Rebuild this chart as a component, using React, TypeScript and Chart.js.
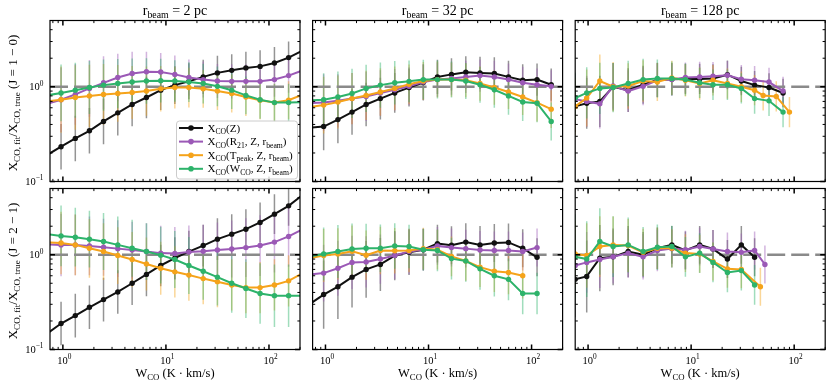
import { useEffect, useRef } from 'react';
import { Chart, registerables } from 'chart.js';
Chart.register(...registerables);

// ---------------- data ----------------
// bin centres (W_CO, K km/s)
const X_LEFT = [0.70, 0.96, 1.32, 1.81, 2.48, 3.41, 4.70, 6.47, 8.9, 12.2, 16.7, 23.0, 31.6, 43.5, 59.7, 82, 113, 155, 213];
const X_RIGHT = [0.75, 0.97, 1.30, 1.75, 2.45, 3.42, 4.7, 6.5, 8.8, 12.1, 16.3, 22.5, 30.7, 41.3, 57, 78];
const TR_TP_X = [0.75, 0.97, 1.30, 1.75, 2.45, 3.42, 4.7, 6.5, 8.8, 12.1, 16.3, 22.5, 30.7, 41.3, 50, 67, 90];
const BR_R21_X = [0.75, 0.97, 1.30, 1.75, 2.45, 3.42, 4.7, 6.5, 8.8, 12.1, 16.3, 22.5, 30.7, 41.3, 52];
const BR_TP_X = [0.75, 0.97, 1.30, 1.75, 2.45, 3.42, 4.7, 6.5, 8.8, 12.1, 16.3, 22.5, 30.7, 47];

// J=1-0, r_beam = 2 pc
const TL_Z = [0.19, 0.233, 0.285, 0.343, 0.43, 0.53, 0.65, 0.77, 0.92, 1.04, 1.14, 1.27, 1.40, 1.49, 1.58, 1.64, 1.78, 2.03, 2.42];
const TL_R21 = [0.66, 0.73, 0.83, 0.96, 1.10, 1.25, 1.38, 1.44, 1.43, 1.35, 1.25, 1.19, 1.15, 1.14, 1.14, 1.14, 1.19, 1.31, 1.49];
const TL_TP = [0.70, 0.73, 0.77, 0.80, 0.83, 0.85, 0.87, 0.90, 0.95, 0.98, 0.98, 0.95, 0.90, 0.85, 0.78, 0.72, 0.68, 0.72, 0.83];
const TL_WCO = [0.81, 0.86, 0.92, 0.98, 1.04, 1.08, 1.12, 1.15, 1.16, 1.15, 1.12, 1.08, 1.01, 0.92, 0.81, 0.73, 0.68, 0.68, 0.69];
const TL_Z_E = [0.25, 0.24, 0.24, 0.24, 0.24, 0.24, 0.23, 0.22, 0.21, 0.20, 0.19, 0.18, 0.18, 0.17, 0.17, 0.17, 0.17, 0.17, 0.17];
const TL_R21_E = [0.35, 0.34, 0.32, 0.30, 0.28, 0.25, 0.23, 0.21, 0.20, 0.20, 0.19, 0.19, 0.18, 0.18, 0.18, 0.18, 0.18, 0.18, 0.18];
const TL_TP_E = [0.36, 0.35, 0.34, 0.33, 0.32, 0.30, 0.28, 0.26, 0.24, 0.22, 0.21, 0.20, 0.20, 0.20, 0.20, 0.20, 0.20, 0.20, 0.20];
const TL_WCO_E = [0.30, 0.30, 0.29, 0.28, 0.27, 0.26, 0.25, 0.24, 0.23, 0.22, 0.21, 0.21, 0.21, 0.20, 0.20, 0.20, 0.20, 0.20, 0.20];

// J=2-1, r_beam = 2 pc
const BL_Z = [0.147, 0.188, 0.228, 0.279, 0.336, 0.405, 0.50, 0.62, 0.77, 0.92, 1.08, 1.25, 1.46, 1.65, 1.86, 2.19, 2.68, 3.28, 4.28];
const BL_R21 = [1.29, 1.27, 1.27, 1.24, 1.20, 1.16, 1.12, 1.08, 1.04, 1.03, 1.07, 1.09, 1.12, 1.15, 1.19, 1.25, 1.36, 1.56, 1.86];
const BL_TP = [1.35, 1.33, 1.27, 1.17, 1.08, 0.98, 0.89, 0.80, 0.72, 0.66, 0.61, 0.56, 0.52, 0.48, 0.45, 0.45, 0.48, 0.53, 0.64];
const BL_WCO = [1.65, 1.58, 1.53, 1.46, 1.38, 1.27, 1.17, 1.08, 0.99, 0.89, 0.77, 0.67, 0.58, 0.50, 0.44, 0.39, 0.37, 0.37, 0.37];
const BL_Z_E = [0.24, 0.23, 0.23, 0.23, 0.23, 0.23, 0.23, 0.23, 0.22, 0.22, 0.22, 0.22, 0.22, 0.21, 0.21, 0.21, 0.21, 0.21, 0.21];
const BL_R21_E = [0.34, 0.33, 0.32, 0.31, 0.30, 0.30, 0.30, 0.30, 0.29, 0.28, 0.28, 0.28, 0.29, 0.30, 0.31, 0.32, 0.32, 0.32, 0.32];
const BL_TP_E = [0.34, 0.33, 0.32, 0.31, 0.30, 0.30, 0.29, 0.28, 0.28, 0.27, 0.27, 0.27, 0.27, 0.27, 0.27, 0.27, 0.27, 0.27, 0.27];
const BL_WCO_E = [0.32, 0.32, 0.31, 0.30, 0.30, 0.30, 0.30, 0.30, 0.30, 0.30, 0.30, 0.30, 0.30, 0.31, 0.31, 0.32, 0.33, 0.33, 0.33];

// J=1-0, r_beam = 32 pc
const TM_Z = [0.37, 0.38, 0.45, 0.54, 0.65, 0.75, 0.86, 0.98, 1.11, 1.27, 1.35, 1.42, 1.40, 1.38, 1.27, 1.17, 1.19, 1.05];
const TM_R21 = [0.67, 0.68, 0.71, 0.75, 0.79, 0.86, 0.93, 1.01, 1.12, 1.19, 1.22, 1.27, 1.31, 1.27, 1.19, 1.10, 1.05, 1.01];
const TM_TP = [0.61, 0.64, 0.69, 0.75, 0.81, 0.88, 0.96, 1.06, 1.15, 1.19, 1.19, 1.17, 1.08, 0.98, 0.88, 0.78, 0.68, 0.58];
const TM_WCO = [0.72, 0.73, 0.78, 0.85, 0.96, 1.04, 1.10, 1.14, 1.19, 1.19, 1.19, 1.15, 1.05, 0.93, 0.80, 0.69, 0.67, 0.43];
const TM_Z_E = [0.25, 0.25, 0.25, 0.24, 0.23, 0.22, 0.21, 0.20, 0.19, 0.18, 0.17, 0.17, 0.17, 0.17, 0.17, 0.17, 0.17, 0.17];
const TM_R21_E = [0.30, 0.30, 0.28, 0.27, 0.26, 0.24, 0.22, 0.20, 0.19, 0.18, 0.17, 0.17, 0.17, 0.17, 0.17, 0.17, 0.17, 0.17];
const TM_TP_E = [0.30, 0.30, 0.28, 0.27, 0.26, 0.25, 0.23, 0.21, 0.20, 0.19, 0.18, 0.18, 0.18, 0.18, 0.18, 0.19, 0.20, 0.20];
const TM_WCO_E = [0.28, 0.28, 0.27, 0.26, 0.25, 0.24, 0.23, 0.22, 0.21, 0.20, 0.19, 0.19, 0.19, 0.19, 0.20, 0.20, 0.20, 0.20];

// J=2-1, r_beam = 32 pc
const BM_Z = [0.30, 0.38, 0.46, 0.58, 0.70, 0.79, 0.98, 1.06, 1.13, 1.31, 1.26, 1.36, 1.27, 1.33, 1.35, 1.17, 0.94];
const BM_R21 = [0.62, 0.64, 0.72, 0.83, 0.84, 0.90, 0.98, 1.08, 1.13, 1.24, 1.19, 1.16, 1.12, 1.11, 1.11, 1.08, 1.19];
const BM_TP = [0.92, 0.98, 1.02, 1.09, 0.99, 1.11, 1.10, 1.11, 1.16, 1.13, 0.96, 0.86, 0.74, 0.67, 0.65, 0.60];
const BM_WCO = [0.96, 1.02, 1.08, 1.15, 1.17, 1.17, 1.24, 1.22, 1.13, 1.11, 0.91, 0.86, 0.71, 0.60, 0.55, 0.39, 0.39];
const BM_Z_E = [0.36, 0.36, 0.34, 0.32, 0.30, 0.28, 0.26, 0.24, 0.22, 0.20, 0.20, 0.20, 0.20, 0.20, 0.20, 0.20, 0.20];
const BM_R21_E = [0.30, 0.30, 0.29, 0.28, 0.27, 0.26, 0.25, 0.24, 0.22, 0.20, 0.20, 0.20, 0.20, 0.20, 0.20, 0.20, 0.20];
const BM_TP_E = [0.28, 0.28, 0.27, 0.27, 0.26, 0.25, 0.24, 0.23, 0.22, 0.21, 0.21, 0.21, 0.21, 0.22, 0.23, 0.24];
const BM_WCO_E = [0.28, 0.28, 0.28, 0.27, 0.26, 0.25, 0.24, 0.23, 0.22, 0.22, 0.22, 0.22, 0.22, 0.22, 0.22, 0.22, 0.22];

// J=1-0, r_beam = 128 pc
const TR_Z = [0.62, 0.67, 0.70, 1.00, 0.92, 1.05, 1.18, 1.20, 1.21, 1.21, 1.22, 1.34, 1.15, 1.04, 0.98, 0.86];
const TR_R21 = [0.74, 0.70, 0.66, 1.02, 0.90, 1.01, 1.17, 1.19, 1.25, 1.27, 1.29, 1.32, 1.20, 1.17, 1.12, 0.90];
const TR_TP = [0.62, 0.76, 1.15, 1.00, 1.02, 1.15, 1.12, 1.24, 1.17, 1.08, 1.17, 1.08, 1.00, 0.92, 0.81, 0.79, 0.54];
const TR_WCO = [0.76, 0.86, 0.96, 0.98, 1.08, 1.19, 1.22, 1.22, 1.19, 1.10, 1.05, 1.05, 0.96, 0.75, 0.71, 0.54];
const TR_Z_E = [0.27, 0.27, 0.27, 0.25, 0.23, 0.20, 0.18, 0.17, 0.16, 0.16, 0.15, 0.15, 0.15, 0.15, 0.15, 0.15];
const TR_R21_E = [0.27, 0.27, 0.26, 0.24, 0.22, 0.20, 0.18, 0.17, 0.16, 0.16, 0.15, 0.15, 0.15, 0.15, 0.15, 0.15];
const TR_TP_E = [0.30, 0.30, 0.28, 0.26, 0.24, 0.22, 0.20, 0.18, 0.17, 0.17, 0.16, 0.16, 0.16, 0.16, 0.16, 0.16, 0.16];
const TR_WCO_E = [0.27, 0.27, 0.27, 0.26, 0.24, 0.22, 0.20, 0.18, 0.17, 0.16, 0.16, 0.16, 0.16, 0.16, 0.16, 0.16];

// J=2-1, r_beam = 128 pc
const BR_Z = [0.55, 0.59, 0.92, 0.95, 1.08, 1.00, 1.17, 1.27, 1.11, 1.27, 1.15, 0.90, 1.27, 0.94];
const BR_R21 = [0.77, 0.83, 0.89, 0.95, 1.04, 0.95, 1.11, 1.16, 1.13, 1.22, 1.15, 1.08, 1.06, 1.11, 0.79];
const BR_TP = [1.02, 0.98, 1.22, 1.27, 1.25, 1.06, 1.17, 1.17, 1.04, 1.02, 0.85, 0.71, 0.70, 0.46];
const BR_WCO = [0.95, 0.90, 1.38, 1.22, 1.27, 1.08, 1.20, 1.22, 0.95, 1.04, 0.83, 0.65, 0.68, 0.48];
const BR_Z_E = [0.40, 0.38, 0.35, 0.30, 0.27, 0.24, 0.22, 0.20, 0.20, 0.20, 0.20, 0.20, 0.20, 0.20];
const BR_R21_E = [0.33, 0.32, 0.30, 0.28, 0.26, 0.24, 0.22, 0.20, 0.20, 0.20, 0.20, 0.20, 0.20, 0.20, 0.20];
const BR_TP_E = [0.35, 0.34, 0.32, 0.30, 0.28, 0.25, 0.22, 0.20, 0.20, 0.20, 0.20, 0.20, 0.20, 0.20];
const BR_WCO_E = [0.45, 0.40, 0.35, 0.32, 0.29, 0.26, 0.24, 0.22, 0.21, 0.21, 0.21, 0.21, 0.21, 0.21];

const BEAM_LABELS = ['2', '32', '128'];
const J_LABELS = ['1 − 0', '2 − 1'];
const X_MAJOR = [1, 10, 100];
const X_MINOR = [0.8, 0.9, 2, 3, 4, 5, 6, 7, 8, 9, 20, 30, 40, 50, 60, 70, 80, 90, 200];
const Y_MAJOR = [0.1, 1];
const Y_MINOR = [0.2, 0.3, 0.4, 0.5, 0.6, 0.7, 0.8, 0.9, 2, 3, 4];
const X_TICK_EXP = ['0', '1', '2'];
const Y_TICK_EXP = ['−1', '0'];

// ---------------- layout / style ----------------
const W = 831, H = 387;
const COL_LEFT = [50, 312.6, 575.2];
const ROW_TOP = [20.5, 188.5];
const PW = 250, PH = 161;
const X_MIN = 0.75, X_MAX = 200, Y_MIN = 0.1, Y_MAX = 5;
const FONT = '"Liberation Serif", "DejaVu Serif", serif';
const COLORS = ['#111111', '#9b59b6', '#f5a31a', '#2db36a'];
const ERR_COLORS = ['rgba(0,0,0,0.42)', 'rgba(155,89,182,0.45)', 'rgba(245,163,26,0.45)', 'rgba(45,179,106,0.45)'];

type Seg = [string, number]; // 0 normal, 1 subscript, 2 superscript
type Series = { kind: number; xs: number[]; ys: number[]; err: number[] };
type PanelCfg = { row: number; col: number; series: Series[] };

const LEGEND_LABELS: Seg[][] = [
  [['X', 0], ['CO', 1], ['(Z)', 0]],
  [['X', 0], ['CO', 1], ['(R', 0], ['21', 1], [', Z, r', 0], ['beam', 1], [')', 0]],
  [['X', 0], ['CO', 1], ['(T', 0], ['peak', 1], [', Z, r', 0], ['beam', 1], [')', 0]],
  [['X', 0], ['CO', 1], ['(W', 0], ['CO', 1], [', Z, r', 0], ['beam', 1], [')', 0]],
];

const PANELS: PanelCfg[] = [
  { row: 0, col: 0, series: [
    { kind: 0, xs: X_LEFT, ys: TL_Z, err: TL_Z_E },
    { kind: 1, xs: X_LEFT, ys: TL_R21, err: TL_R21_E },
    { kind: 2, xs: X_LEFT, ys: TL_TP, err: TL_TP_E },
    { kind: 3, xs: X_LEFT, ys: TL_WCO, err: TL_WCO_E },
  ] },
  { row: 0, col: 1, series: [
    { kind: 0, xs: X_LEFT, ys: TM_Z, err: TM_Z_E },
    { kind: 1, xs: X_LEFT, ys: TM_R21, err: TM_R21_E },
    { kind: 2, xs: X_LEFT, ys: TM_TP, err: TM_TP_E },
    { kind: 3, xs: X_LEFT, ys: TM_WCO, err: TM_WCO_E },
  ] },
  { row: 0, col: 2, series: [
    { kind: 0, xs: X_RIGHT, ys: TR_Z, err: TR_Z_E },
    { kind: 1, xs: X_RIGHT, ys: TR_R21, err: TR_R21_E },
    { kind: 2, xs: TR_TP_X, ys: TR_TP, err: TR_TP_E },
    { kind: 3, xs: X_RIGHT, ys: TR_WCO, err: TR_WCO_E },
  ] },
  { row: 1, col: 0, series: [
    { kind: 0, xs: X_LEFT, ys: BL_Z, err: BL_Z_E },
    { kind: 1, xs: X_LEFT, ys: BL_R21, err: BL_R21_E },
    { kind: 2, xs: X_LEFT, ys: BL_TP, err: BL_TP_E },
    { kind: 3, xs: X_LEFT, ys: BL_WCO, err: BL_WCO_E },
  ] },
  { row: 1, col: 1, series: [
    { kind: 0, xs: X_LEFT, ys: BM_Z, err: BM_Z_E },
    { kind: 1, xs: X_LEFT, ys: BM_R21, err: BM_R21_E },
    { kind: 2, xs: X_LEFT, ys: BM_TP, err: BM_TP_E },
    { kind: 3, xs: X_LEFT, ys: BM_WCO, err: BM_WCO_E },
  ] },
  { row: 1, col: 2, series: [
    { kind: 0, xs: X_RIGHT, ys: BR_Z, err: BR_Z_E },
    { kind: 1, xs: BR_R21_X, ys: BR_R21, err: BR_R21_E },
    { kind: 2, xs: BR_TP_X, ys: BR_TP, err: BR_TP_E },
    { kind: 3, xs: X_RIGHT, ys: BR_WCO, err: BR_WCO_E },
  ] },
];

// ---------------- text helpers ----------------
function segFont(size: number, k: number) {
  return `${k ? size * 0.7 : size}px ${FONT}`;
}
function richWidth(ctx: CanvasRenderingContext2D, segs: Seg[], size: number) {
  let w = 0;
  for (const [t, k] of segs) { ctx.font = segFont(size, k); w += ctx.measureText(t).width; }
  return w;
}
function drawRich(ctx: CanvasRenderingContext2D, segs: Seg[], x: number, y: number, size: number, align: string) {
  const w = richWidth(ctx, segs, size);
  let cx = align === 'left' ? x : align === 'right' ? x - w : x - w / 2;
  ctx.textAlign = 'left';
  ctx.textBaseline = 'alphabetic';
  for (const [t, k] of segs) {
    ctx.font = segFont(size, k);
    const dy = k === 1 ? size * 0.24 : k === 2 ? -size * 0.45 : 0;
    ctx.fillText(t, cx, y + dy);
    cx += ctx.measureText(t).width;
  }
}

function makePlugin(cfg: PanelCfg) {
  return {
    id: 'panelDecor',
    beforeDatasetsDraw(chart: any) {
      const { ctx, chartArea: a } = chart;
      const sx = chart.scales.x, sy = chart.scales.y;
      ctx.save();
      ctx.beginPath();
      ctx.rect(a.left, a.top, a.right - a.left, a.bottom - a.top);
      ctx.clip();
      ctx.lineWidth = 1.5;
      for (const s of cfg.series) {
        ctx.strokeStyle = ERR_COLORS[s.kind];
        s.ys.forEach((yv, i) => {
          const px = sx.getPixelForValue(s.xs[i]);
          const f = Math.pow(10, s.err[i]);
          ctx.beginPath();
          ctx.moveTo(px, sy.getPixelForValue(yv / f));
          ctx.lineTo(px, sy.getPixelForValue(yv * f));
          ctx.stroke();
        });
      }
      const py = sy.getPixelForValue(1);
      ctx.setLineDash([18, 6]);
      ctx.strokeStyle = '#8a8a8a';
      ctx.lineWidth = 2.6;
      ctx.beginPath();
      ctx.moveTo(a.left, py);
      ctx.lineTo(a.right, py);
      ctx.stroke();
      ctx.restore();
    },
    afterDraw(chart: any) {
      const { ctx, chartArea: a } = chart;
      const sx = chart.scales.x, sy = chart.scales.y;
      ctx.save();
      ctx.strokeStyle = '#000';
      ctx.fillStyle = '#000';
      const xTicks: [number[], number, number][] = [[X_MAJOR, 5, 1.5], [X_MINOR, 2.6, 1]];
      for (const [vals, len, lw] of xTicks) {
        ctx.lineWidth = lw;
        for (const v of vals) {
          const px = sx.getPixelForValue(v);
          if (px < a.left || px > a.right) continue;
          ctx.beginPath();
          ctx.moveTo(px, a.bottom); ctx.lineTo(px, a.bottom - len);
          ctx.moveTo(px, a.top); ctx.lineTo(px, a.top + len);
          ctx.stroke();
        }
      }
      const yTicks: [number[], number, number][] = [[Y_MAJOR, 5, 1.5], [Y_MINOR, 2.6, 1]];
      for (const [vals, len, lw] of yTicks) {
        ctx.lineWidth = lw;
        for (const v of vals) {
          const py = sy.getPixelForValue(v);
          if (py < a.top || py > a.bottom) continue;
          ctx.beginPath();
          ctx.moveTo(a.left, py); ctx.lineTo(a.left + len, py);
          ctx.moveTo(a.right, py); ctx.lineTo(a.right - len, py);
          ctx.stroke();
        }
      }
      ctx.lineWidth = 1.2;
      ctx.strokeRect(a.left, a.top, a.right - a.left, a.bottom - a.top);

      const cxMid = (a.left + a.right) / 2;
      if (cfg.row === 0) {
        drawRich(ctx, [['r', 0], ['beam', 1], [' = ' + BEAM_LABELS[cfg.col] + ' pc', 0]], cxMid, 15, 14, 'center');
      }
      if (cfg.row === 1) {
        X_MAJOR.forEach((v, i) => {
          const px = sx.getPixelForValue(v);
          drawRich(ctx, [['10', 0], [X_TICK_EXP[i], 2]], px + 1.5, a.bottom + 14.5, 10.5, 'center');
        });
        drawRich(ctx, [['W', 0], ['CO', 1], [' (K · km/s)', 0]], cxMid, a.bottom + 27.5, 12.5, 'center');
      }
      if (cfg.col === 0) {
        Y_MAJOR.forEach((v, i) => {
          const py = sy.getPixelForValue(v);
          drawRich(ctx, [['10', 0], [Y_TICK_EXP[i], 2]], a.left - 6.5, py + 3.5, 10.5, 'right');
        });
        ctx.save();
        ctx.translate(16.5, (a.top + a.bottom) / 2 + 2);
        ctx.rotate(-Math.PI / 2);
        drawRich(ctx, [['X', 0], ['CO, fit', 1], ['/X', 0], ['CO, true', 1], [' (J = ' + J_LABELS[cfg.row] + ')', 0]], 0, 0, 13, 'center');
        ctx.restore();
      }
      if (cfg.row === 0 && cfg.col === 0) {
        const bw = 121, bh = 58;
        const bx = a.right - bw - 2.5, by = a.bottom - bh - 2.5;
        ctx.fillStyle = 'rgba(255,255,255,0.85)';
        ctx.strokeStyle = '#cccccc';
        ctx.lineWidth = 1;
        ctx.beginPath();
        ctx.roundRect(bx, by, bw, bh, 3);
        ctx.fill();
        ctx.stroke();
        LEGEND_LABELS.forEach((segs, i) => {
          const ly = by + 7 + i * 13.6;
          ctx.strokeStyle = COLORS[i];
          ctx.fillStyle = COLORS[i];
          ctx.lineWidth = 2;
          ctx.beginPath();
          ctx.moveTo(bx + 2.5, ly);
          ctx.lineTo(bx + 26.5, ly);
          ctx.stroke();
          ctx.beginPath();
          ctx.arc(bx + 14.5, ly, 2.8, 0, Math.PI * 2);
          ctx.fill();
          ctx.fillStyle = '#000';
          drawRich(ctx, segs, bx + 31, ly + 3.5, 11, 'left');
        });
      }
      ctx.restore();
    },
  };
}

function Panel({ cfg }: { cfg: PanelCfg }) {
  const ref = useRef<HTMLCanvasElement>(null);
  useEffect(() => {
    const left = COL_LEFT[cfg.col];
    const top = ROW_TOP[cfg.row];
    const chart = new Chart(ref.current as HTMLCanvasElement, {
      type: 'line',
      data: {
        datasets: cfg.series.map((s) => ({
          label: String(s.kind),
          data: s.ys.map((y, i) => ({ x: s.xs[i], y })),
          borderColor: COLORS[s.kind],
          backgroundColor: COLORS[s.kind],
          pointBackgroundColor: COLORS[s.kind],
          pointBorderWidth: 0,
          pointRadius: 2.7,
          borderWidth: 2,
          tension: 0,
          fill: false,
          clip: 0,
          order: 4 - s.kind,
        })),
      },
      options: {
        responsive: false,
        animation: false,
        devicePixelRatio: 1,
        events: [],
        layout: { padding: { left, top, right: W - left - PW, bottom: H - top - PH } },
        plugins: { legend: { display: false }, tooltip: { enabled: false }, title: { display: false } },
        scales: {
          x: { type: 'logarithmic', min: X_MIN, max: X_MAX, display: false, bounds: 'data' },
          y: { type: 'logarithmic', min: Y_MIN, max: Y_MAX, display: false, bounds: 'data' },
        },
      },
      plugins: [makePlugin(cfg)],
    } as any);
    return () => chart.destroy();
  }, [cfg]);
  return <canvas ref={ref} width={W} height={H} style={{ position: 'absolute', left: 0, top: 0 }} />;
}

export default function App() {
  return (
    <div style={{ position: 'absolute', left: 0, top: 0, width: W, height: H, background: '#ffffff', overflow: 'hidden' }}>
      {PANELS.map((p, i) => <Panel key={i} cfg={p} />)}
    </div>
  );
}
